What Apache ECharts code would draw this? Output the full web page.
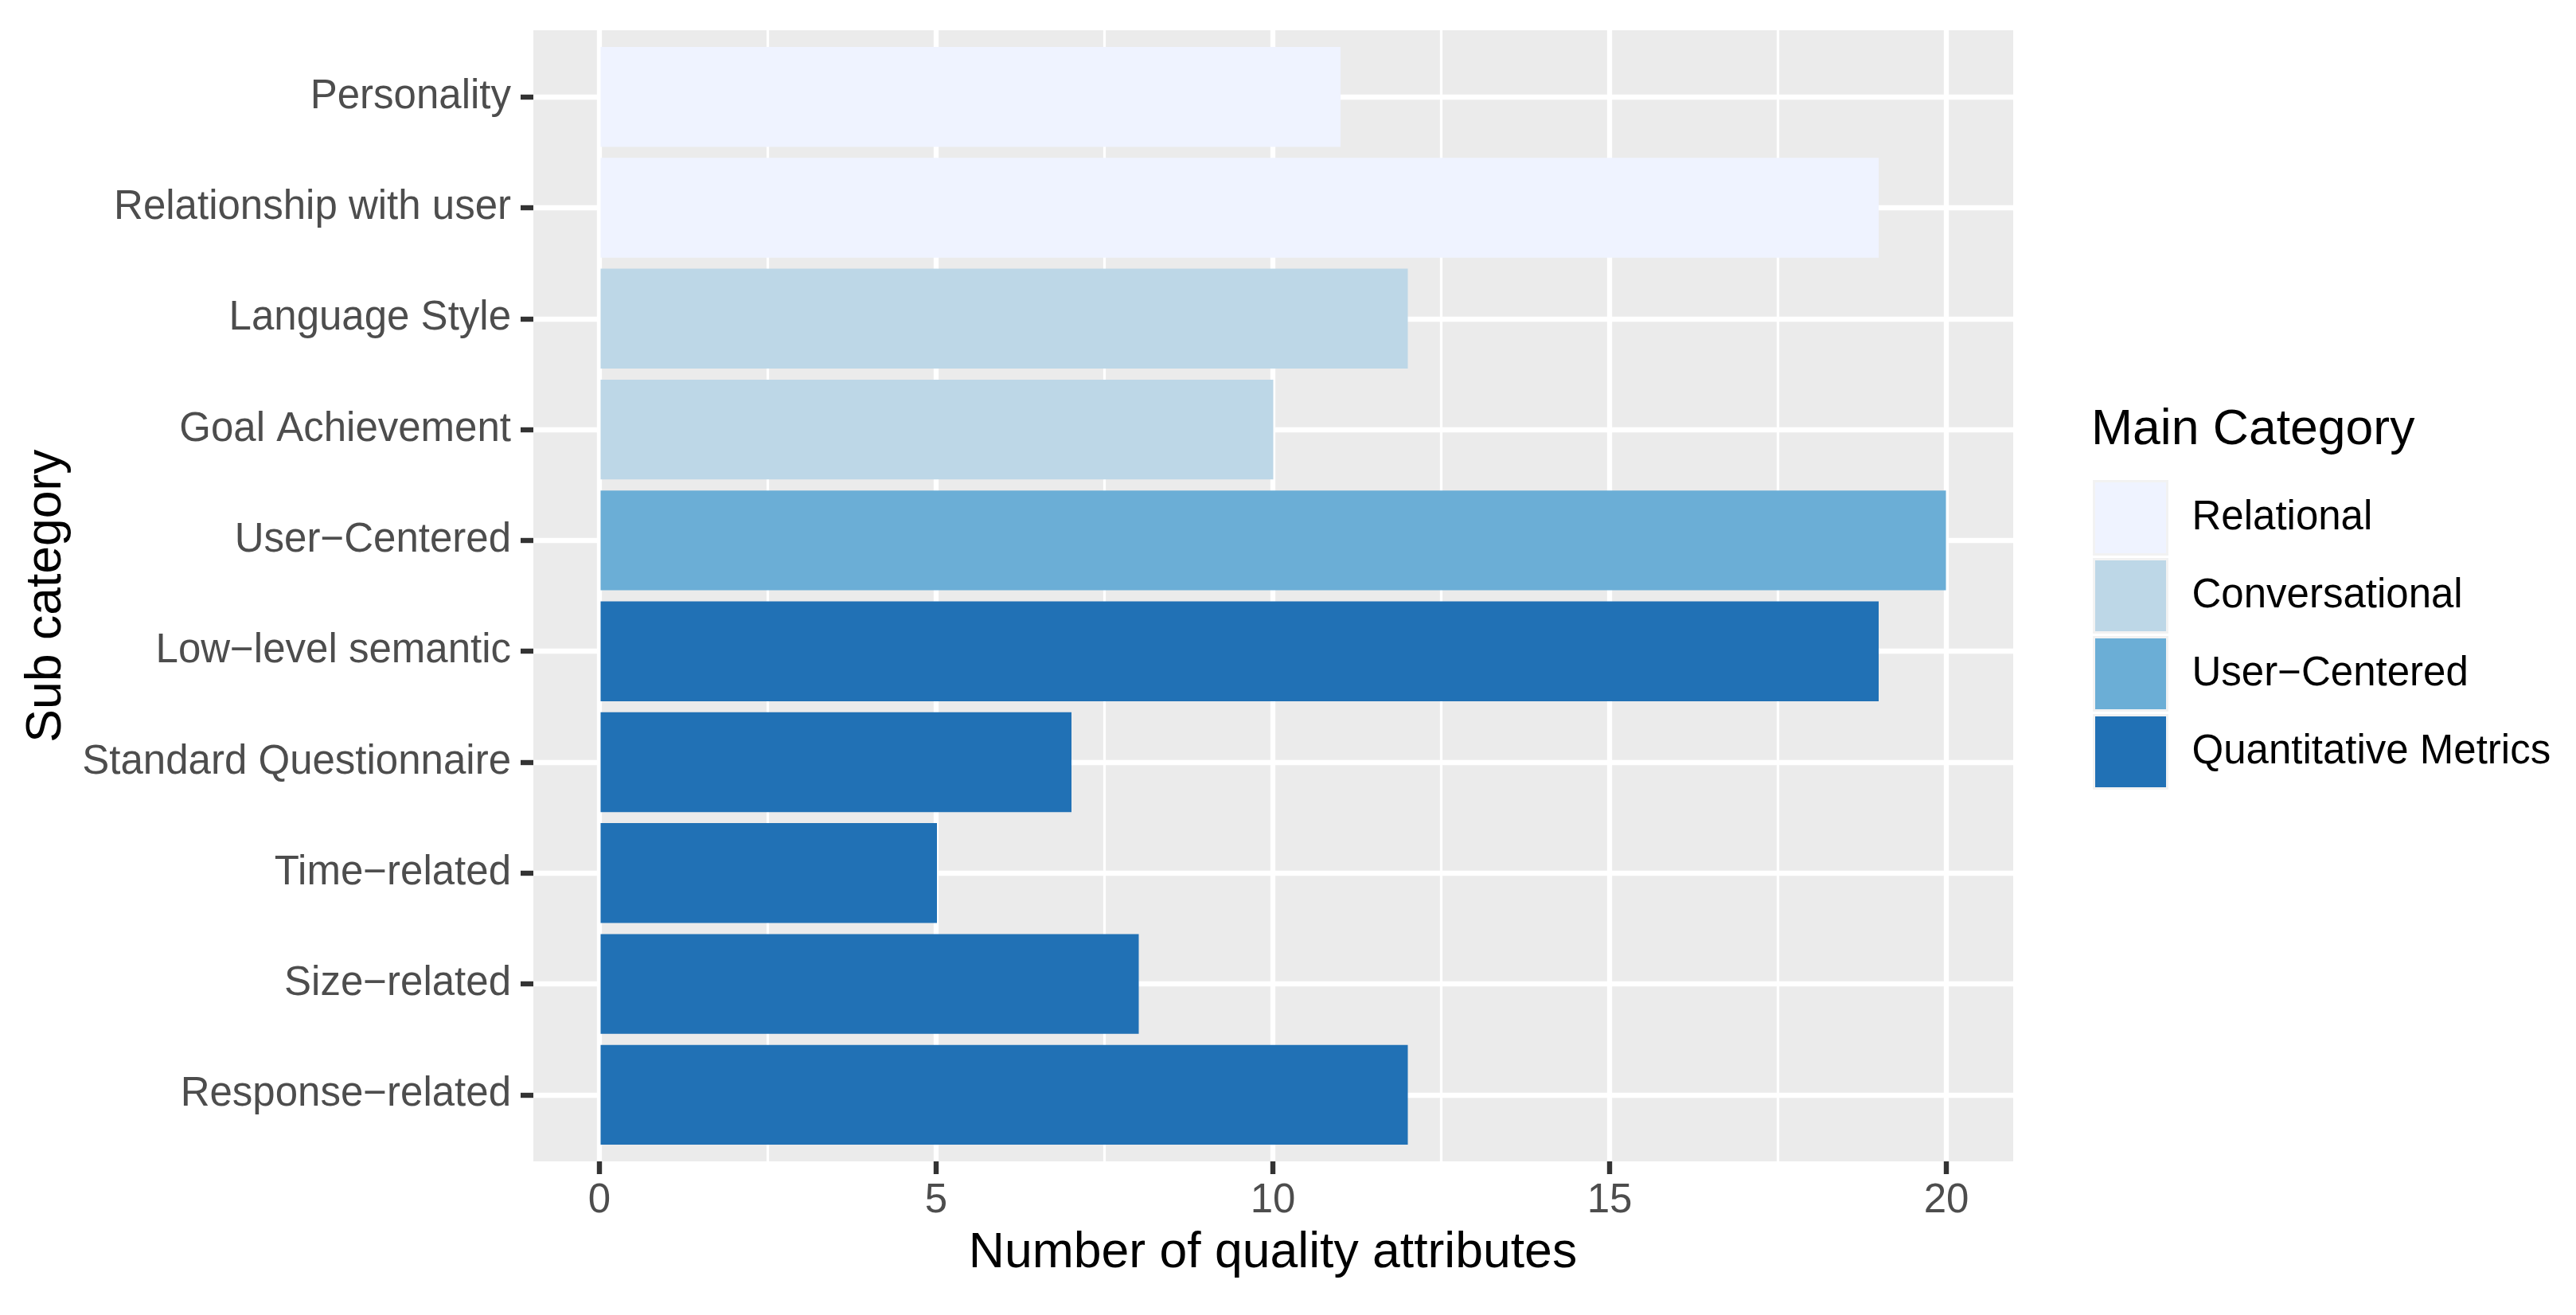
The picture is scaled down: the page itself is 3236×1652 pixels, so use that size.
<!DOCTYPE html>
<html><head><meta charset="utf-8">
<script src="https://cdn.jsdelivr.net/npm/echarts@6/dist/echarts.min.js"></script>
<style>html,body{margin:0;padding:0;background:#fff}#c{width:3236px;height:1652px}</style>
</head><body><div id="c"></div>
<script>
// Data (bottom to top, as drawn on the category axis)
const subCategories = ['Response\u2212related','Size\u2212related','Time\u2212related','Standard Questionnaire','Low\u2212level semantic','User\u2212Centered','Goal Achievement','Language Style','Relationship with user','Personality'];
const mainOfSub = ['Quantitative Metrics','Quantitative Metrics','Quantitative Metrics','Quantitative Metrics','Quantitative Metrics','User\u2212Centered','Conversational','Conversational','Relational','Relational'];
const counts = [12, 8, 5, 7, 19, 20, 10, 12, 19, 11];
const mainCategories = ['Relational','Conversational','User\u2212Centered','Quantitative Metrics'];
const mainColors = ['#EFF3FF','#BDD7E7','#6BAED6','#2171B5'];
const xMin = 0, xMax = 20, xInterval = 5;

const FONT = "'Liberation Sans', Arial, Helvetica, sans-serif";
const chart = echarts.init(document.getElementById('c'), null, {renderer:'canvas'});

const series = mainCategories.map((m, k) => ({
  type: 'bar', name: m, xAxisIndex: 2, yAxisIndex: 2, stack: 'all',
  barWidth: '90%', clip: false,
  itemStyle: {color: mainColors[k]},
  data: counts.map((v, i) => mainOfSub[i] === m ? v : '-')
}));

chart.setOption({
  animation: false,
  backgroundColor: '#ffffff',
  textStyle: {fontFamily: FONT},
  title: {text: 'Main Category', left: 2627, top: 509, padding: 0,
    textStyle: {fontSize: 62.5, fontWeight: 'normal', color: '#000', fontFamily: FONT}},
  legend: {orient: 'vertical', left: 2624, top: 598, itemWidth: 92, itemHeight: 92, itemGap: 3,
    icon: 'rect', data: mainCategories, selectedMode: false,
    itemStyle: {borderColor: '#F2F2F2', borderWidth: 3},
    textStyle: {fontSize: 51, color: '#000', fontFamily: FONT, padding: [0, 0, 0, 26]}},
  grid: [
    {left: 670, top: 38, width: 1859, height: 1421, show: true, backgroundColor: '#EBEBEB', borderWidth: 0},
    {left: 753, top: 38, width: 1692, height: 1421},
    {left: 670, top: 121.7, width: 1859, height: 1253.7}
  ],
  xAxis: [
    {gridIndex: 0, type: 'value', show: false, min: 0, max: 1},
    {gridIndex: 1, type: 'value', min: xMin, max: xMax, interval: xInterval,
      axisLine: {show: false, onZero: false},
      axisTick: {show: true, length: 16, lineStyle: {color: '#333333', width: 6.4}},
      axisLabel: {fontSize: 51, color: '#4D4D4D', margin: 24, fontFamily: FONT},
      splitLine: {show: true, lineStyle: {color: '#ffffff', width: 6.3}},
      minorTick: {show: false, splitNumber: 2},
      minorSplitLine: {show: true, lineStyle: {color: '#ffffff', width: 3.2}},
      name: 'Number of quality attributes', nameLocation: 'middle', nameGap: 84,
      nameTextStyle: {fontSize: 62.5, color: '#000', fontFamily: FONT}},
    {gridIndex: 2, type: 'value', min: -1, max: 21, show: false}
  ],
  yAxis: [
    {gridIndex: 0, type: 'value', show: false, min: 0, max: 1},
    {gridIndex: 1, type: 'value', show: false, min: 0, max: 1},
    {gridIndex: 2, type: 'category', data: subCategories, boundaryGap: false,
      axisLine: {show: false, onZero: false},
      axisTick: {show: true, interval: 0, length: 16, lineStyle: {color: '#333333', width: 6.4}},
      axisLabel: {interval: 0, fontSize: 51, color: '#4D4D4D', margin: 28, fontFamily: FONT, padding: [20, 0, 0, 0]},
      splitLine: {show: true, interval: 0, lineStyle: {color: '#ffffff', width: 6.3}},
      name: 'Sub category', nameLocation: 'middle', nameGap: 580, nameRotate: 90,
      nameTextStyle: {fontSize: 62.5, color: '#000', fontFamily: FONT}}
  ],
  series: series
});
</script></body></html>
